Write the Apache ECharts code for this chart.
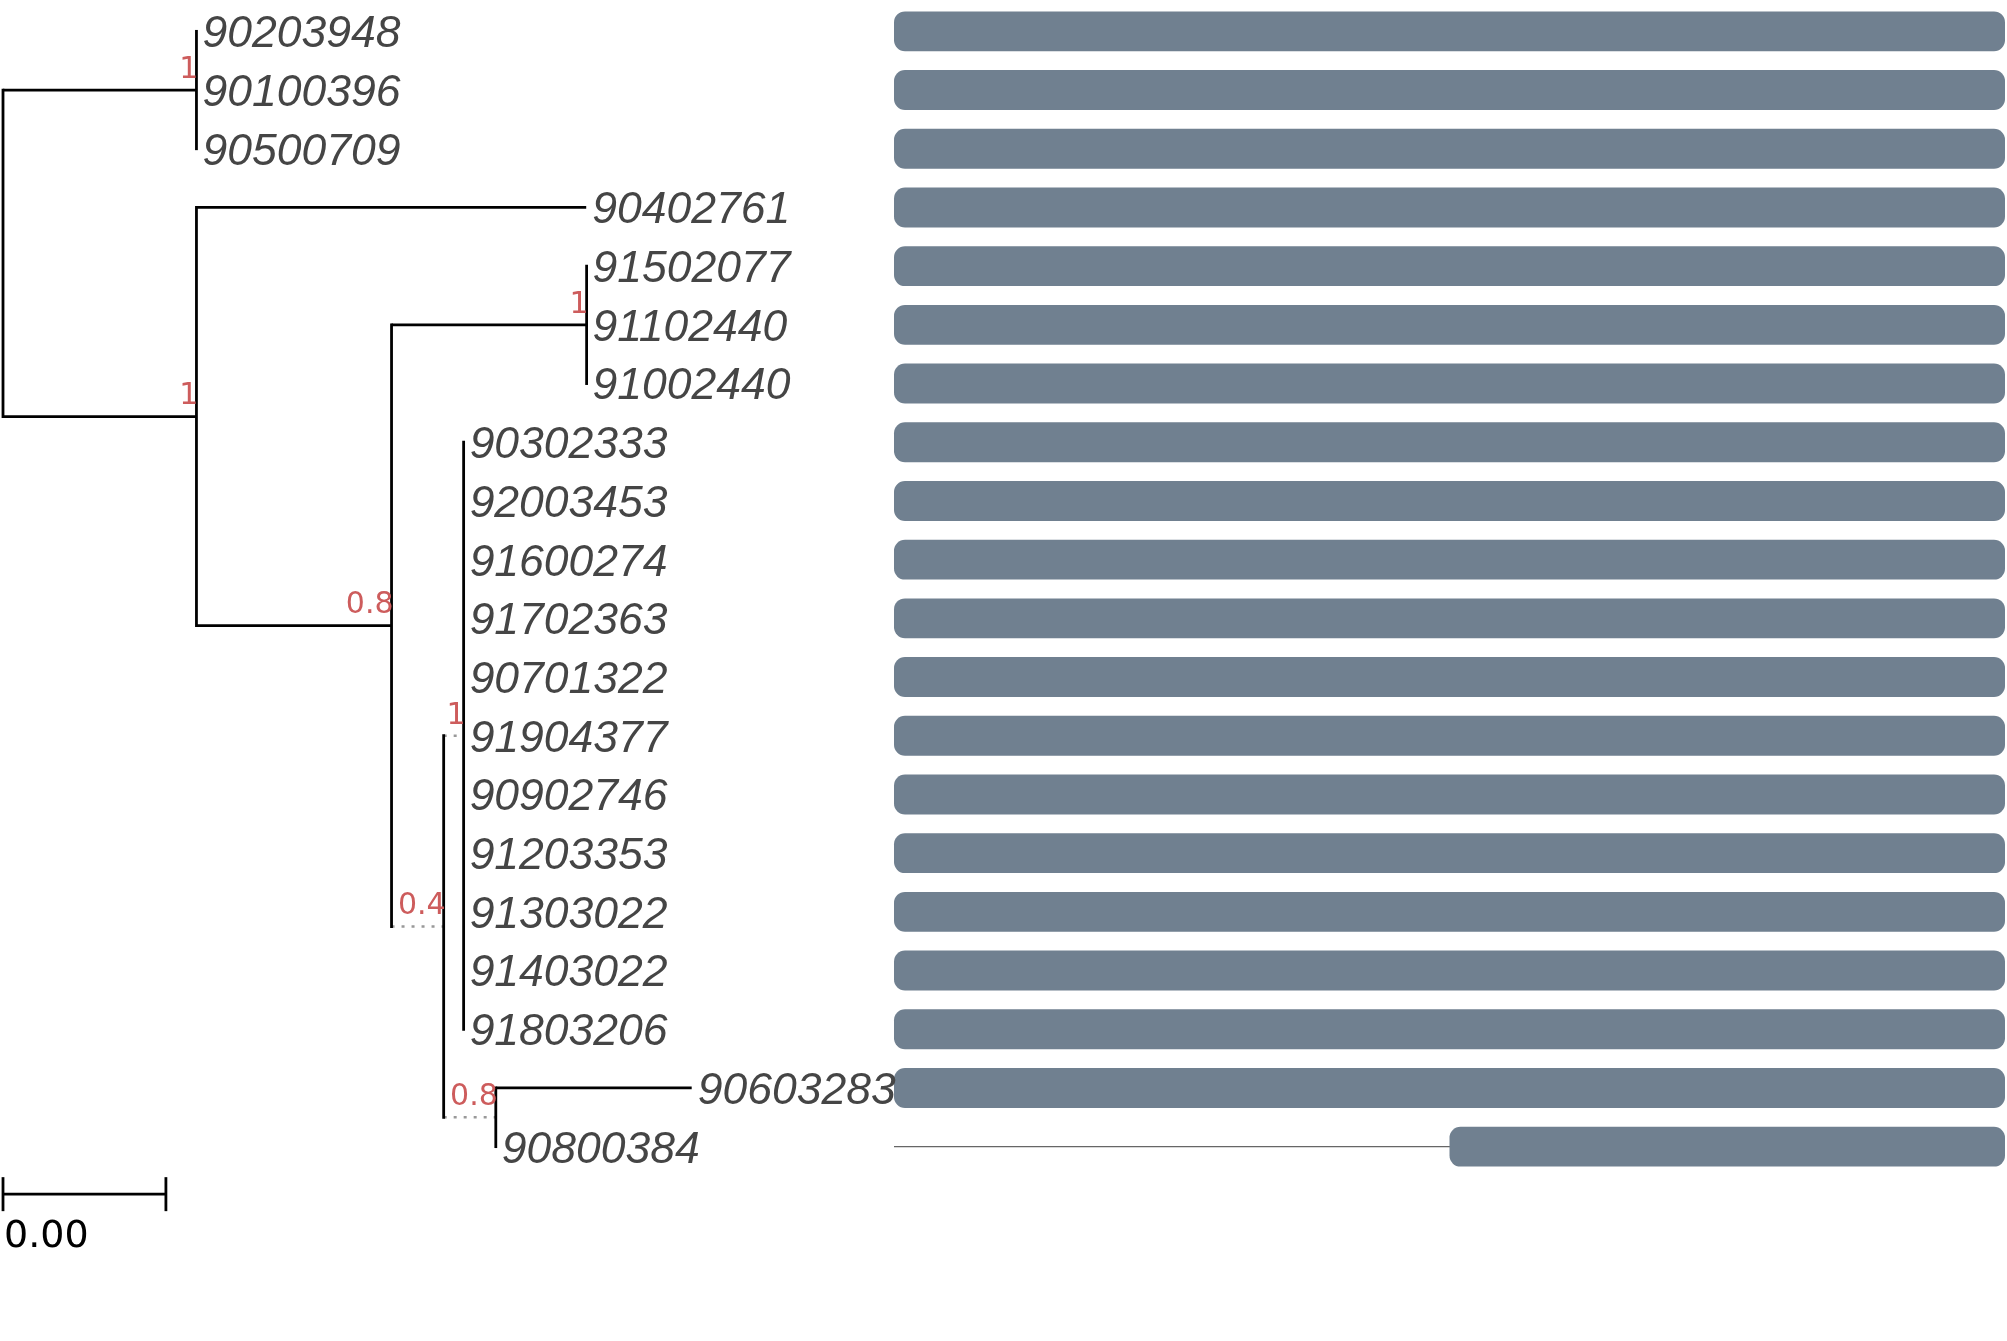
<!DOCTYPE html>
<html>
<head>
    <meta charset="UTF-8">
    <title>Tree with alignment coverage</title>
    <script src="https://cdn.jsdelivr.net/npm/echarts@6/dist/echarts.min.js"></script>
    <style>
        body { margin: 0; background: #fff; }
    </style>
</head>
<body>
<div id="main" style="width:2007px; height:1341px;"></div>
<script>
    // tips, top to bottom
    var tipLabels = ['90203948', '90100396', '90500709', '90402761', '91502077', '91102440', '91002440',
        '90302333', '92003453', '91600274', '91702363', '90701322', '91904377', '90902746', '91203353',
        '91303022', '91403022', '91803206', '90603283', '90800384'];
    var tipParent = ['A', 'A', 'A', 'B', 'D', 'D', 'D',
        'F', 'F', 'F', 'F', 'F', 'F', 'F', 'F', 'F', 'F', 'F', 'G', 'G'];
    var tipBranch = [0, 0, 0, 0.00957, 0, 0, 0,
        0, 0, 0, 0, 0, 0, 0, 0, 0, 0, 0, 0.00481, 0];

    // internal nodes, parents before children
    var nodeIds = ['root', 'A', 'B', 'C', 'D', 'E', 'F', 'G'];
    var nodeParent = [null, 'root', 'root', 'B', 'C', 'C', 'E', 'E'];
    var nodeBranch = [0, 0.00475, 0.00475, 0.00479, 0.00479, 0.00128, 0.00049, 0.00128];
    var nodeSupport = ['', '1', '1', '0.8', '1', '0.4', '1', '0.8'];

    // aligned region of every sequence
    var seqStart = [0, 0, 0, 0, 0, 0, 0, 0, 0, 0, 0, 0, 0, 0, 0, 0, 0, 0, 0, 500];
    var seqEnd = [1000, 1000, 1000, 1000, 1000, 1000, 1000, 1000, 1000, 1000,
        1000, 1000, 1000, 1000, 1000, 1000, 1000, 1000, 1000, 1000];
    var alignLength = 1000;

    var scaleBarLength = 0.004;

    // ---- layout: depth and row of every node ----
    var depth = {}, row = {}, kids = {};
    nodeIds.forEach(function (id, i) {
        var p = nodeParent[i];
        depth[id] = p === null ? 0 : depth[p] + nodeBranch[i];
        kids[id] = [];
        if (p !== null) kids[p].push(id);
    });
    tipLabels.forEach(function (t, i) {
        depth[t] = depth[tipParent[i]] + tipBranch[i];
        row[t] = i;
        kids[tipParent[i]].push(t);
    });
    for (var k = nodeIds.length - 1; k >= 0; k--) {
        var ys = kids[nodeIds[k]].map(function (c) { return row[c]; });
        row[nodeIds[k]] = (Math.min.apply(null, ys) + Math.max.apply(null, ys)) / 2;
    }

    var chart = echarts.init(document.getElementById('main'), null, {renderer: 'canvas'});

    function treeItem(params, api) {
        var ch = [];
        function pt(x, y) { return api.coord([x, y]); }

        // horizontal branches
        function branch(id, parent, len, internal) {
            if (len <= 0) return;
            var a = pt(depth[parent], row[id]), b = pt(depth[id], row[id]);
            var dotted = internal && len < 0.002;
            ch.push({
                type: 'line',
                shape: {x1: a[0], y1: a[1], x2: b[0], y2: b[1]},
                style: dotted
                    ? {stroke: '#999', lineWidth: 2.6, lineDash: [3, 7]}
                    : {stroke: '#000', lineWidth: 2.8}
            });
        }
        nodeIds.forEach(function (id, i) {
            if (nodeParent[i] !== null) branch(id, nodeParent[i], nodeBranch[i], true);
        });
        tipLabels.forEach(function (t, i) { branch(t, tipParent[i], tipBranch[i], false); });

        // vertical connectors
        nodeIds.forEach(function (id) {
            var ys = kids[id].map(function (c) { return row[c]; });
            var a = pt(depth[id], Math.min.apply(null, ys)), b = pt(depth[id], Math.max.apply(null, ys));
            ch.push({
                type: 'line',
                shape: {x1: a[0], y1: a[1], x2: b[0], y2: b[1]},
                style: {stroke: '#000', lineWidth: 2.8, lineCap: 'square'}
            });
        });

        // tip labels
        tipLabels.forEach(function (t) {
            var p = pt(depth[t], row[t]);
            ch.push({
                type: 'text',
                style: {
                    text: t, x: p[0] + 6, y: p[1] + 3.5,
                    fill: '#454545', fontSize: 44.5, fontStyle: 'italic',
                    fontFamily: 'Liberation Sans', align: 'left', verticalAlign: 'middle'
                }
            });
        });

        // support values
        nodeIds.forEach(function (id, i) {
            if (!nodeSupport[i]) return;
            var p = pt(depth[id], row[id]);
            ch.push({
                type: 'text',
                style: {
                    text: nodeSupport[i], x: p[0] + 2, y: p[1] - 5,
                    fill: '#CD5C5C', fontSize: 30, fontFamily: 'DejaVu Sans',
                    align: 'right', verticalAlign: 'bottom'
                }
            });
        });

        // scale bar
        var s0 = pt(0, tipLabels.length - 1), s1 = pt(scaleBarLength, tipLabels.length - 1);
        var sy = s0[1] + 47.5;
        ch.push({type: 'line', shape: {x1: s0[0], y1: sy, x2: s1[0], y2: sy},
            style: {stroke: '#000', lineWidth: 2.8}});
        [s0[0], s1[0]].forEach(function (x) {
            ch.push({type: 'line', shape: {x1: x, y1: sy - 17, x2: x, y2: sy + 17},
                style: {stroke: '#000', lineWidth: 2.8}});
        });
        ch.push({
            type: 'text',
            style: {
                text: scaleBarLength.toFixed(2), x: s0[0] + 1, y: sy + 43,
                fill: '#000', fontSize: 38, fontFamily: 'DejaVu Sans',
                align: 'left', verticalAlign: 'middle'
            }
        });

        return {type: 'group', children: ch};
    }

    function coverageItem(params, api) {
        var i = api.value(2);
        var a = api.coord([api.value(0), i]);
        var b = api.coord([api.value(1), i]);
        var full0 = api.coord([0, i]), full1 = api.coord([alignLength, i]);
        var h = api.size([0, 1])[1] * 0.68;
        return {
            type: 'group',
            children: [
                {type: 'line', shape: {x1: full0[0], y1: a[1], x2: full1[0], y2: a[1]},
                    style: {stroke: '#666', lineWidth: 1.4}},
                {type: 'rect', shape: {x: a[0], y: a[1] - h / 2, width: b[0] - a[0], height: h, r: 11},
                    style: {fill: '#708090'}}
            ]
        };
    }

    var coverage = tipLabels.map(function (t, i) { return [seqStart[i], seqEnd[i], i]; });

    chart.setOption({
        animation: false,
        grid: [
            {left: 3, top: 2, width: 896, height: 1174},
            {left: 894, top: 2, right: 2, height: 1174}
        ],
        xAxis: [
            {type: 'value', gridIndex: 0, min: 0, max: 0.022, show: false},
            {type: 'value', gridIndex: 1, min: 0, max: alignLength, show: false}
        ],
        yAxis: [
            {type: 'value', gridIndex: 0, min: -0.5, max: tipLabels.length - 0.5, inverse: true, show: false},
            {type: 'value', gridIndex: 1, min: -0.5, max: tipLabels.length - 0.5, inverse: true, show: false}
        ],
        series: [
            {
                type: 'custom', xAxisIndex: 1, yAxisIndex: 1,
                renderItem: coverageItem, data: coverage, clip: false, silent: true
            },
            {
                type: 'custom', xAxisIndex: 0, yAxisIndex: 0, z: 3,
                renderItem: treeItem, data: [[0, 0]], clip: false, silent: true
            }
        ]
    });
</script>
</body>
</html>
